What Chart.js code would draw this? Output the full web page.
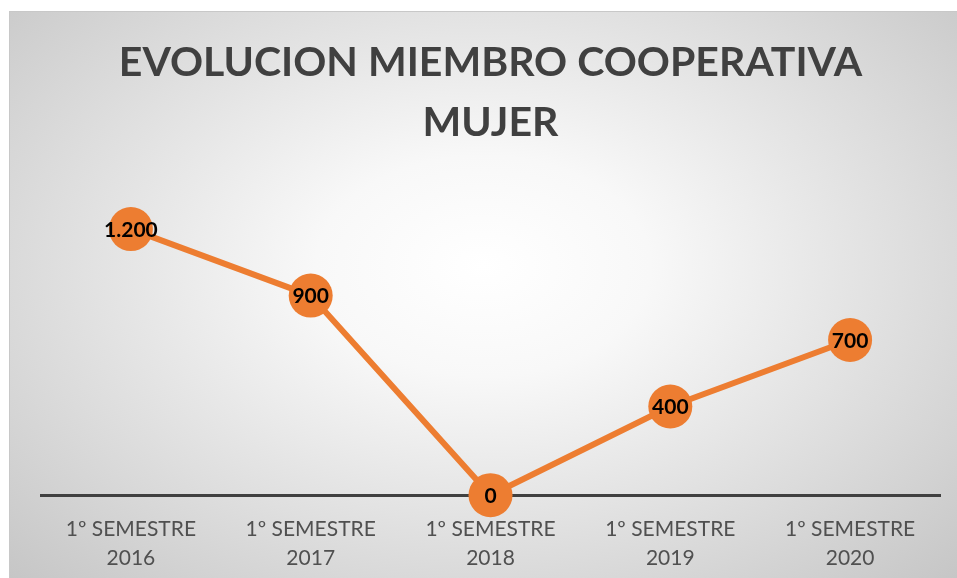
<!DOCTYPE html>
<html lang="es">
<head>
<meta charset="UTF-8">
<title>Evolucion miembro cooperativa mujer</title>
<script src="https://cdn.jsdelivr.net/npm/chart.js"></script>
<style>
    html, body { margin: 0; padding: 0; background: #fff; }
    #wrap {
        position: absolute;
        left: 9px; top: 11px;
        width: 948px; height: 567px;
        background: radial-gradient(ellipse farthest-corner at 50% 45%, #ffffff 0%, #f8f8f8 25%, #c6c6c6 100%);
        box-shadow: inset 1px 1px 0 #c8c8c8;
    }
    #chart { display: block; }
</style>
</head>
<body>
<div id="wrap"><canvas id="chart" width="948" height="567"></canvas></div>
<script>
    const categories = [
        ['1º SEMESTRE', '2016'],
        ['1º SEMESTRE', '2017'],
        ['1º SEMESTRE', '2018'],
        ['1º SEMESTRE', '2019'],
        ['1º SEMESTRE', '2020']
    ];
    const values = [1200, 900, 0, 400, 700];
    const titleLines = ['EVOLUCION MIEMBRO COOPERATIVA', 'MUJER'];
    const fontFamily = 'Lato, "Open Sans", sans-serif';

    // 1200 -> "1.200"
    function fmt(v) {
        return String(v).replace(/\B(?=(\d{3})+(?!\d))/g, '.');
    }

    const pointLabels = {
        id: 'pointLabels',
        afterDatasetsDraw(chart) {
            const ctx = chart.ctx;
            const meta = chart.getDatasetMeta(0);
            ctx.save();
            ctx.font = 'bold 21px ' + fontFamily;
            ctx.fillStyle = '#000';
            ctx.textAlign = 'center';
            ctx.textBaseline = 'middle';
            meta.data.forEach((pt, i) => {
                ctx.fillText(fmt(values[i]), pt.x, pt.y + 1);
            });
            ctx.restore();
        }
    };

    new Chart(document.getElementById('chart'), {
        type: 'line',
        data: {
            labels: categories,
            datasets: [{
                data: values,
                borderColor: '#ED7D31',
                backgroundColor: '#ED7D31',
                borderWidth: 6,
                pointRadius: 22,
                pointHoverRadius: 22,
                pointBorderWidth: 0,
                tension: 0,
                clip: false
            }]
        },
        options: {
            responsive: false,
            animation: false,
            devicePixelRatio: 1,
            layout: { autoPadding: false, padding: { left: 32, right: 17, bottom: -6, top: 0 } },
            plugins: {
                legend: { display: false },
                tooltip: { enabled: false },
                title: {
                    display: true,
                    text: titleLines,
                    color: '#404040',
                    font: { family: fontFamily, size: 41, weight: 'bold', lineHeight: 1.46 },
                    padding: { top: 22, bottom: 32 }
                }
            },
            scales: {
                x: {
                    offset: true,
                    grid: { display: false },
                    border: { display: true, color: '#404040', width: 3 },
                    ticks: {
                        color: '#505050',
                        font: { family: fontFamily, size: 21, lineHeight: 1.4 },
                        padding: 11,
                        maxRotation: 0
                    }
                },
                y: {
                    display: false,
                    min: 0,
                    max: 1400
                }
            }
        },
        plugins: [pointLabels]
    });
</script>
</body>
</html>
